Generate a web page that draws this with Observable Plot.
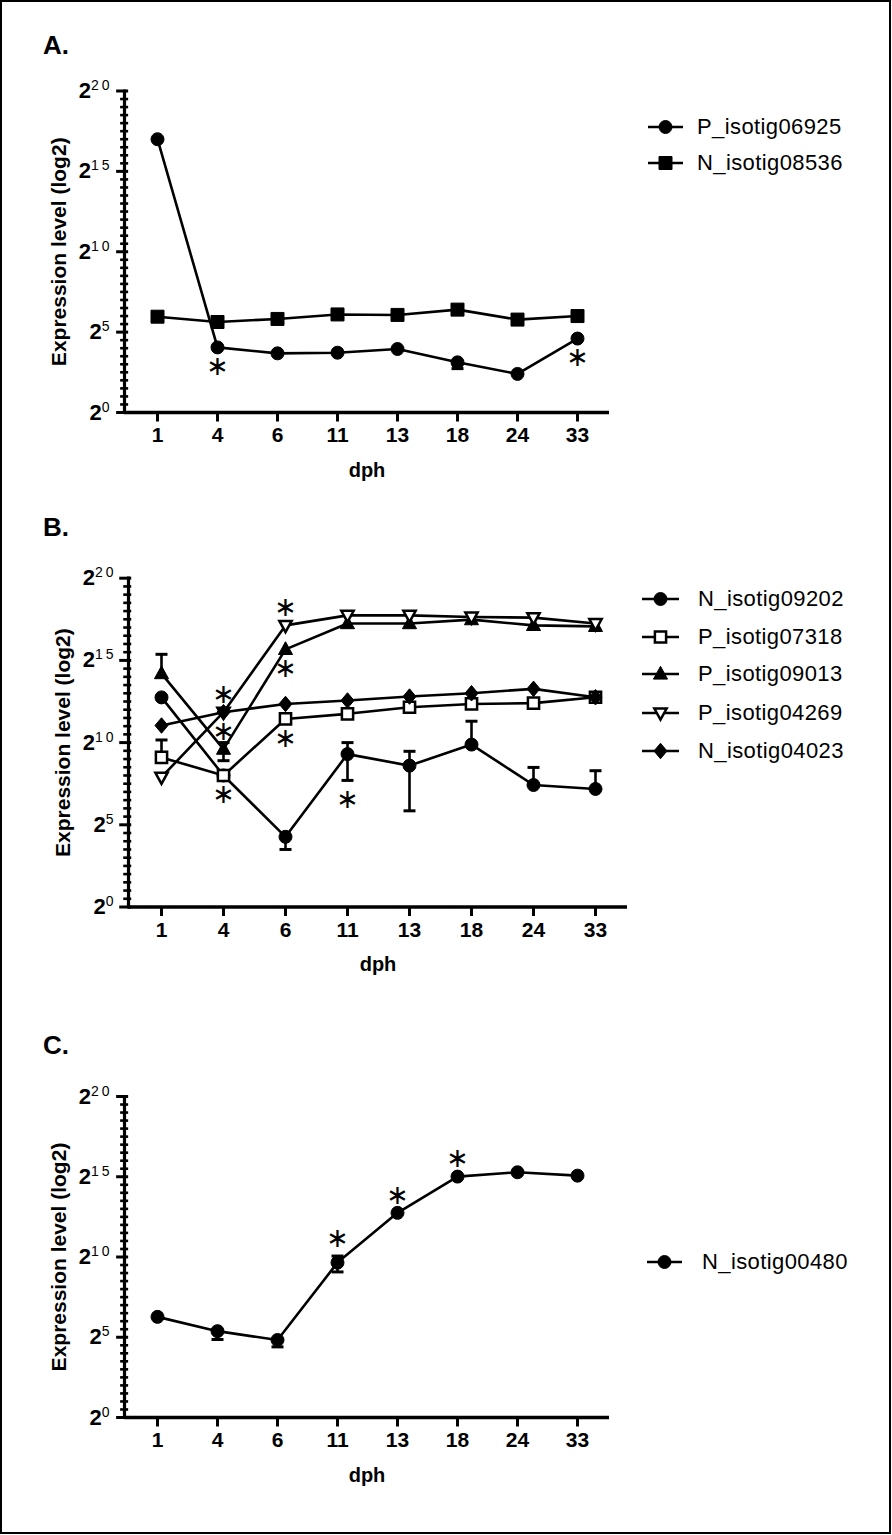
<!DOCTYPE html>
<html><head><meta charset="utf-8">
<script src="https://cdn.jsdelivr.net/npm/d3@7"></script>
<script src="https://cdn.jsdelivr.net/npm/@observablehq/plot@0.6"></script>
<style>
body{margin:0;background:#fff;}
#root{position:relative;width:892px;height:1535px;background:#fff;font-family:"Liberation Sans",Arial,sans-serif;overflow:hidden}
#border{position:absolute;left:0;top:0;width:891px;height:1534px;box-sizing:border-box;border:2px solid #000;pointer-events:none;z-index:5}
.panel{position:absolute;left:0}
.letter{position:absolute;font-weight:bold;font-size:26px;line-height:26px;z-index:3}
.lrow{position:absolute;height:28px;display:flex;align-items:center;font-size:22px;letter-spacing:0.4px;z-index:3;white-space:nowrap}
.lrow svg{flex:none}
</style></head>
<body><div id="root"><div id="border"></div></div>
<script>
// ---------- data ----------
const days = ["1","4","6","11","13","18","24","33"];
const yMajor = [0,5,10,15,20];

// Panel A
const A_P06925    = [17.0, 4.05, 3.68, 3.72, 3.95, 3.12, 2.4, 4.6];
const A_P06925_lo = [null, null, null, null, null, 2.73, null, null];
const A_N08536    = [5.96, 5.63, 5.82, 6.1, 6.07, 6.4, 5.78, 6.0];
const A_stars = [["P_isotig06925","4","below"],["P_isotig06925","33","below"]];

// Panel B
const B_N09202    = [12.75, 8.0, 4.27, 9.3, 8.6, 9.88, 7.42, 7.18];
const B_N09202_lo = [null, null, 3.5, 7.7, 5.85, null, null, null];
const B_N09202_hi = [null, null, null, 10.0, 9.47, 11.3, 8.49, 8.29];
const B_P07318    = [9.1, 8.0, 11.44, 11.75, 12.15, 12.35, 12.4, 12.76];
const B_P07318_hi = [10.16, null, null, null, null, null, null, null];
const B_P09013    = [14.2, 9.6, 15.67, 17.24, 17.24, 17.48, 17.13, 17.07];
const B_P09013_lo = [null, 8.9, null, null, null, null, null, null];
const B_P09013_hi = [15.37, 10.0, null, null, null, null, null, null];
const B_P04269    = [7.9, 11.85, 17.13, 17.74, 17.74, 17.64, 17.6, 17.24];
const B_N04023    = [11.04, 11.85, 12.35, 12.56, 12.8, 13.0, 13.27, 12.76];
const B_stars = [["N_isotig04023","4","above"],["P_isotig04269","4","below"],["P_isotig07318","4","below"],
                 ["P_isotig04269","6","above"],["P_isotig09013","6","below"],["P_isotig07318","6","below"],
                 ["N_isotig09202","11","below"]];

// Panel C
const C_N00480    = [6.27, 5.38, 4.83, 9.65, 12.75, 15.01, 15.28, 15.07];
const C_N00480_lo = [null, 4.86, 4.4, 9.07, null, null, null, null];
const C_N00480_hi = [null, null, null, 10.06, null, null, null, null];
const C_stars = [["N_isotig00480","11","above"],["N_isotig00480","13","above"],["N_isotig00480","18","above"]];

// ---------- symbols ----------
const R = s => Math.sqrt(s/Math.PI);
const SYM = {
  circle:{draw(c,z){const s=R(z);c.moveTo(s,0);c.arc(0,0,s,0,2*Math.PI);}},
  square:{draw(c,z){const s=R(z);c.rect(-s,-s,2*s,2*s);}},
  triUp:{draw(c,z){const s=R(z);c.moveTo(0,-1.2*s);c.lineTo(1.1*s,0.8*s);c.lineTo(-1.1*s,0.8*s);c.closePath();}},
  triDown:{draw(c,z){const s=R(z);c.moveTo(0,1.2*s);c.lineTo(1.1*s,-0.8*s);c.lineTo(-1.1*s,-0.8*s);c.closePath();}},
  diamond:{draw(c,z){const s=R(z);c.moveTo(0,-1.25*s);c.lineTo(1.05*s,0);c.lineTo(0,1.25*s);c.lineTo(-1.05*s,0);c.closePath();}},
  cap:{draw(c,z){const s=R(z);c.moveTo(-s,0);c.lineTo(s,0);}},
  tickLeft:{draw(c,z){const s=R(z);c.moveTo(-s,0);c.lineTo(2,0);}},
  tickDown:{draw(c,z){const s=R(z);c.moveTo(0,0);c.lineTo(0,s);}}
};

const PAD = 0.52;
const panels = [
  {letter:"A.", top:0, height:500, mt:90.5, mb:88, ml:124, mr:283, letterY:45,
   legendLine:[648,683], legendText:697, legendY:[127,163],
   series:[
     {name:"P_isotig06925", v:A_P06925, lo:A_P06925_lo, sym:"circle", fill:"black", r:6.5},
     {name:"N_isotig08536", v:A_N08536, sym:"square", fill:"black", r:6.5}],
   stars:A_stars},
  {letter:"B.", top:500, height:500, mt:77.7, mb:93.5, ml:128, mr:265, letterY:527,
   legendLine:[642,679], legendText:698, legendY:[599,637,674,713,751],
   series:[
     {name:"N_isotig09202", v:B_N09202, lo:B_N09202_lo, hi:B_N09202_hi, sym:"circle", fill:"black", r:6.5},
     {name:"P_isotig07318", v:B_P07318, hi:B_P07318_hi, sym:"square", fill:"white", r:5.6},
     {name:"P_isotig09013", v:B_P09013, lo:B_P09013_lo, hi:B_P09013_hi, sym:"triUp", fill:"black", r:6.4},
     {name:"P_isotig04269", v:B_P04269, sym:"triDown", fill:"white", r:5.6},
     {name:"N_isotig04023", v:B_N04023, sym:"diamond", fill:"black", r:6.2}],
   stars:B_stars},
  {letter:"C.", top:1000, height:535, mt:96, mb:118, ml:124, mr:283, letterY:1045,
   legendLine:[647,682], legendText:702, legendY:[1262],
   series:[
     {name:"N_isotig00480", v:C_N00480, lo:C_N00480_lo, hi:C_N00480_hi, sym:"circle", fill:"black", r:6.5}],
   stars:C_stars}
];

const root = document.getElementById("root");
const FONT = '"Liberation Sans", Arial, sans-serif';
const yMinor = d3.range(0, 20.001, 0.5).filter(v => !yMajor.includes(v));

for (const p of panels) {
  const rows = [];
  for (const s of p.series) days.forEach((d,i)=>rows.push({series:s.name, day:d, value:s.v[i],
      lo:s.lo?s.lo[i]:null, hi:s.hi?s.hi[i]:null}));
  const errs = rows.filter(r=>r.lo!=null||r.hi!=null);
  const key = (s,d)=>rows.find(r=>r.series===s&&r.day===d);
  const starRows = p.stars.map(([s,d,side])=>{const r=key(s,d);
     return {day:d, side, anchor: side==="above" ? (r.hi ?? r.value) : (r.lo ?? r.value), t:"∗"};});

  // distance from first category to the left edge of the frame (point-scale padding)
  const fw = 892 - p.ml - p.mr;
  const edge = PAD * fw / (days.length - 1 + 2*PAD);

  const marks = [
    Plot.axisY({ticks: yMajor, tickSize:0, tickPadding:12, label:null, fontSize:22, fontWeight:"bold"}),
    Plot.axisX({tickSize:0, tickPadding:15, label:null, fontSize:21, fontWeight:"bold"}),
    // tick lines
    Plot.dot(yMinor, {x:()=>days[0], y:d=>d, dx:-edge, symbol:SYM.tickLeft, r:6, stroke:"black", strokeWidth:2.6, fill:"none"}),
    Plot.dot(yMajor, {x:()=>days[0], y:d=>d, dx:-edge, symbol:SYM.tickLeft, r:10, stroke:"black", strokeWidth:3, fill:"none"}),
    Plot.dot(days, {x:d=>d, y:()=>0, symbol:SYM.tickDown, r:9, stroke:"black", strokeWidth:3, fill:"none"}),
    Plot.frame({anchor:"left", strokeWidth:3.2}),
    Plot.ruleY([0], {strokeWidth:3.6}),
    Plot.text(["Expression level (log2)"], {frameAnchor:"left", textAnchor:"middle", lineAnchor:"middle", dx:-65, rotate:-90, fontSize:21, fontWeight:"bold"}),
    Plot.text(["dph"], {frameAnchor:"bottom", textAnchor:"middle", lineAnchor:"middle", dy:58, fontSize:20, fontWeight:"bold"}),
    Plot.line(rows, {x:"day", y:"value", z:"series", stroke:"black", strokeWidth:2.6}),
    Plot.ruleX(errs, {x:"day", y1:d=>d.lo ?? d.value, y2:d=>d.hi ?? d.value, stroke:"black", strokeWidth:2.6}),
    Plot.dot(errs.filter(d=>d.lo!=null), {x:"day", y:"lo", symbol:SYM.cap, r:6, stroke:"black", strokeWidth:3, fill:"none"}),
    Plot.dot(errs.filter(d=>d.hi!=null), {x:"day", y:"hi", symbol:SYM.cap, r:6, stroke:"black", strokeWidth:3, fill:"none"}),
  ];
  for (const s of p.series) {
    marks.push(Plot.dot(rows.filter(r=>r.series===s.name), {x:"day", y:"value", symbol:SYM[s.sym], r:s.r,
      fill:s.fill, stroke:"black", strokeWidth: s.fill==="white"?2.5:1}));
  }
  marks.push(Plot.text(starRows.filter(d=>d.side==="above"), {x:"day", y:"anchor", text:"t", dy:-18, fontSize:27, fontFamily:"DejaVu Sans"}));
  marks.push(Plot.text(starRows.filter(d=>d.side==="below"), {x:"day", y:"anchor", text:"t", dy:19, fontSize:27, fontFamily:"DejaVu Sans"}));

  const svg = Plot.plot({
    width:892, height:p.height,
    marginTop:p.mt, marginBottom:p.mb, marginLeft:p.ml, marginRight:p.mr,
    x:{type:"point", domain:days, padding:PAD},
    y:{domain:[0,20]},
    style:{fontFamily:FONT, color:"black", background:"transparent", overflow:"visible"},
    marks
  });
  // superscript tick labels 2^n
  d3.select(svg).selectAll('g[aria-label="y-axis tick label"] text').each(function(){
    const t = this.textContent.trim();
    if (!t) return;
    const el = d3.select(this);
    el.text(null);
    el.append("tspan").attr("font-size",22).attr("font-weight","bold").text("2");
    el.append("tspan").attr("font-size",14).attr("font-weight","normal").attr("dy",-8).attr("letter-spacing",3).text(t);
  });
  const holder = document.createElement("div");
  holder.className = "panel";
  holder.style.top = p.top + "px";
  holder.appendChild(svg);
  root.appendChild(holder);

  const L = document.createElement("div");
  L.className = "letter"; L.textContent = p.letter;
  L.style.left = "43px"; L.style.top = (p.letterY - 13) + "px";
  root.appendChild(L);

  const [lx1, lx2] = p.legendLine;
  p.series.forEach((s,i)=>{
    const row = document.createElement("div");
    row.className = "lrow";
    row.style.left = lx1 + "px";
    row.style.top = (p.legendY[i] - 14) + "px";
    const ns = "http://www.w3.org/2000/svg";
    const w = p.legendText - lx1;
    const g = document.createElementNS(ns,"svg");
    g.setAttribute("width", w); g.setAttribute("height",28);
    const ln = document.createElementNS(ns,"line");
    ln.setAttribute("x1",0); ln.setAttribute("x2",lx2-lx1); ln.setAttribute("y1",14); ln.setAttribute("y2",14);
    ln.setAttribute("stroke","black"); ln.setAttribute("stroke-width",2.6);
    const pa = document.createElementNS(ns,"path");
    pa.setAttribute("d", d3.symbol(SYM[s.sym], Math.PI*s.r*s.r)());
    pa.setAttribute("transform",`translate(${(lx2-lx1)/2},14)`);
    pa.setAttribute("fill", s.fill); pa.setAttribute("stroke","black");
    pa.setAttribute("stroke-width", s.fill==="white"?2.5:1);
    g.appendChild(ln); g.appendChild(pa);
    const sp = document.createElement("span");
    sp.textContent = s.name;
    row.appendChild(g); row.appendChild(sp);
    root.appendChild(row);
  });
}
</script>
</body></html>
